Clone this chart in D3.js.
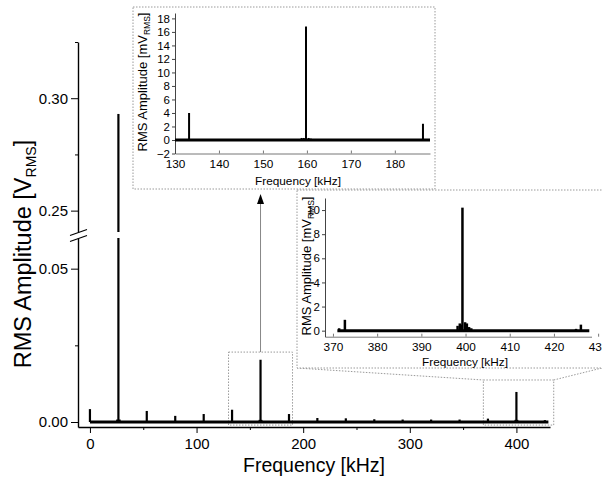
<!DOCTYPE html>
<html>
<head>
<meta charset="utf-8">
<script src="https://cdn.jsdelivr.net/npm/d3@7"></script>
<style>
	body { margin: 0; background: #fff; }
	svg text { font-family: 'Liberation Sans', Arial, sans-serif; }
</style>
</head>
<body>
<svg id="chart" width="602" height="485"></svg>
<script>
'use strict';

// main spectrum: peaks [kHz] and amplitudes [V_RMS]
let mainFreq = [0, 25.6, 26.7, 27.8, 53.3, 80, 106.7, 133.3, 159.2, 160, 160.8, 186.7, 213.3, 240, 266.7, 293.3, 320, 346.7, 373.3, 399.2, 400, 400.8, 426.7];
let mainAmp = [0.0042, 0.0008, 0.293, 0.0008, 0.0036, 0.002, 0.0026, 0.004, 0.0007, 0.0203, 0.0007, 0.0026, 0.0013, 0.0012, 0.0009, 0.0008, 0.0008, 0.0008, 0.0011, 0.0007, 0.0098, 0.0007, 0.0006];
let mainBase = [0, 430];
let mainXTicks = [0, 100, 200, 300, 400];
let mainXMinor = [50, 150, 250, 350];
let lowTicks = [0, 0.05];
let lowMinor = [0.025];
let highTicks = [0.25, 0.30];
let highMinor = [0.275, 0.325];

// inset 1: 130-188 kHz [mV_RMS]
let ins1Freq = [133.2, 158.8, 159.3, 159.8, 160.4, 160.9, 186.4];
let ins1Amp = [4.0, 0.3, 0.3, 16.8, 0.3, 0.2, 2.4];
let ins1Base = [130, 188];
let ins1XTicks = [130, 140, 150, 160, 170, 180];
let ins1YTicks = [-2, 0, 2, 4, 6, 8, 10, 12, 14, 16, 18];

// inset 2: 368-429 kHz [mV_RMS]
let ins2Freq = [371.4, 372.7, 398.2, 398.7, 399.0, 399.3, 399.9, 400.3, 400.8, 401.3, 425.0, 426.1];
let ins2Amp = [0.2, 0.9, 0.4, 0.6, 0.5, 10.2, 0.7, 0.6, 0.3, 0.2, 0.15, 0.5];
let ins2Base = [371, 428];
let ins2XTicks = [370, 380, 390, 400, 410, 420, 430];
let ins2YTicks = [0, 2, 4, 6, 8, 10];

let svg = d3.select('#chart');
let font = "'Liberation Sans', Arial, sans-serif";

svg.append('rect').attr('width', 602).attr('height', 485).attr('fill', '#fff');

// ---- main plot scales
let x = d3.scaleLinear().domain([-11.2, 431.5]).range([78, 550]);
let yLow = d3.scaleLinear().domain([-0.00163, 0.06]).range([427, 238]);
let yHigh = d3.scaleLinear().domain([0.2405, 0.325]).range([232, 42]);

function styleAxis(g, size, color) {
	g.attr('font-size', size).attr('font-family', font);
	g.selectAll('path, line').attr('stroke', color);
	g.selectAll('text').attr('fill', '#000');
	return g;
}

let main = svg.append('g');

// left axis, two segments
main.append('g').attr('transform', 'translate(78,0)')
	.call(d3.axisLeft(yLow).tickValues(lowTicks).tickFormat(d3.format('.2f')).tickSize(7).tickSizeOuter(0).tickPadding(3))
	.call(g => styleAxis(g, 15, '#000'));
main.append('g').attr('transform', 'translate(78,0)')
	.call(d3.axisLeft(yLow).tickValues(lowMinor).tickFormat('').tickSize(3).tickSizeOuter(0))
	.call(g => g.select('.domain').remove());
main.append('g').attr('transform', 'translate(78,0)')
	.call(d3.axisLeft(yHigh).tickValues(highTicks).tickFormat(d3.format('.2f')).tickSize(7).tickSizeOuter(0).tickPadding(3))
	.call(g => styleAxis(g, 15, '#000'));
main.append('g').attr('transform', 'translate(78,0)')
	.call(d3.axisLeft(yHigh).tickValues(highMinor).tickFormat('').tickSize(3).tickSizeOuter(0))
	.call(g => g.select('.domain').remove());

// break marks
[0, 6].forEach(dy => {
	main.append('line')
		.attr('x1', 70).attr('y1', 235.5 + dy)
		.attr('x2', 87).attr('y2', 229.5 + dy)
		.attr('stroke', '#000').attr('stroke-width', 1.3);
});

// bottom axis
main.append('g').attr('transform', 'translate(0,427)')
	.call(d3.axisBottom(x).tickValues(mainXTicks).tickSize(6).tickSizeOuter(0).tickPadding(5))
	.call(g => styleAxis(g, 15, '#000'));
main.append('g').attr('transform', 'translate(0,427)')
	.call(d3.axisBottom(x).tickValues(mainXMinor).tickFormat('').tickSize(3).tickSizeOuter(0))
	.call(g => g.select('.domain').remove());

main.selectAll('.domain').attr('stroke-width', 1.4);

// titles
main.append('text')
	.attr('x', 314).attr('y', 472)
	.attr('text-anchor', 'middle')
	.attr('font-size', 19.5)
	.text('Frequency [kHz]');

let yt = main.append('text')
	.attr('transform', 'translate(31,254) rotate(-90)')
	.attr('text-anchor', 'middle')
	.attr('font-size', 23.5);
yt.append('tspan').text('RMS Amplitude [V');
yt.append('tspan').attr('font-size', 14).attr('dy', 5).text('RMS');
yt.append('tspan').attr('dy', -5).text(']');

// zoom boxes on the main plot
let dotted = { stroke: '#9a9a9a', dash: '1.5,1.5' };
let zoomBoxes = [[130, 190, 0.0228], [369, 435, 0.0137]];
zoomBoxes.forEach(b => {
	main.append('rect')
		.attr('x', x(b[0])).attr('y', yLow(b[2]))
		.attr('width', x(b[1]) - x(b[0]))
		.attr('height', yLow(-0.001) - yLow(b[2]))
		.attr('fill', 'none')
		.attr('stroke', dotted.stroke)
		.attr('stroke-dasharray', dotted.dash);
});

// baseline + stems
main.append('line')
	.attr('x1', x(mainBase[0])).attr('x2', x(mainBase[1]))
	.attr('y1', yLow(0)).attr('y2', yLow(0))
	.attr('stroke', '#000').attr('stroke-width', 3);

let lowTop = yLow.domain()[1];
main.selectAll('line.low').data(mainFreq).join('line')
	.attr('class', 'low')
	.attr('x1', d => x(d)).attr('x2', d => x(d))
	.attr('y1', yLow(0))
	.attr('y2', (d, i) => yLow(Math.min(mainAmp[i], lowTop)))
	.attr('stroke', '#000').attr('stroke-width', 2.2);

main.selectAll('line.high').data(mainFreq.filter((d, i) => mainAmp[i] > yHigh.domain()[0])).join('line')
	.attr('class', 'high')
	.attr('x1', d => x(d)).attr('x2', d => x(d))
	.attr('y1', yHigh(yHigh.domain()[0]))
	.attr('y2', d => yHigh(mainAmp[mainFreq.indexOf(d)]))
	.attr('stroke', '#000').attr('stroke-width', 2.2);

// arrow to inset 1
main.append('line')
	.attr('x1', x(160)).attr('x2', x(160))
	.attr('y1', yLow(0.0228)).attr('y2', 202)
	.attr('stroke', '#888').attr('stroke-width', 1);
main.append('path')
	.attr('d', `M${x(160)},194 L${x(160) - 3.5},204 L${x(160) + 3.5},204 Z`)
	.attr('fill', '#000');

// connectors to inset 2
main.append('path')
	.attr('d', `M297,368 L${x(369)},${yLow(0.0137)} M${x(435)},${yLow(0.0137)} L610,366`)
	.attr('fill', 'none')
	.attr('stroke', dotted.stroke)
	.attr('stroke-dasharray', dotted.dash);

// ---- insets
function inset(opt) {
	let g = svg.append('g');

	g.append('rect')
		.attr('x', opt.box[0]).attr('y', opt.box[1])
		.attr('width', opt.box[2] - opt.box[0])
		.attr('height', opt.box[3] - opt.box[1])
		.attr('fill', '#fff')
		.attr('stroke', dotted.stroke)
		.attr('stroke-dasharray', dotted.dash);

	let ix = d3.scaleLinear().domain(opt.xDomain).range(opt.xRange);
	let iy = d3.scaleLinear().domain(opt.yDomain).range(opt.yRange);

	g.append('g').attr('transform', `translate(0,${opt.yRange[0]})`)
		.call(d3.axisBottom(ix).tickValues(opt.xTicks).tickSize(-3).tickSizeOuter(0).tickPadding(6))
		.call(a => styleAxis(a, 11.8, '#777'));
	g.append('g').attr('transform', `translate(${opt.xRange[0]},0)`)
		.call(d3.axisLeft(iy).tickValues(opt.yTicks).tickSize(3).tickSizeOuter(0).tickPadding(2))
		.call(a => styleAxis(a, 11.5, '#444'));

	g.append('line')
		.attr('x1', ix(opt.base[0])).attr('x2', ix(opt.base[1]))
		.attr('y1', iy(0)).attr('y2', iy(0))
		.attr('stroke', '#000').attr('stroke-width', 3);

	g.selectAll('line.stem').data(opt.freq).join('line')
		.attr('class', 'stem')
		.attr('x1', d => ix(d)).attr('x2', d => ix(d))
		.attr('y1', iy(0))
		.attr('y2', (d, i) => iy(opt.amp[i]))
		.attr('stroke', '#000').attr('stroke-width', opt.stemWidth);

	g.append('text')
		.attr('x', opt.xTitle[0]).attr('y', opt.xTitle[1])
		.attr('text-anchor', 'middle')
		.attr('font-size', 11.8)
		.text('Frequency [kHz]');

	let t = g.append('text')
		.attr('transform', `translate(${opt.yTitle[0]},${opt.yTitle[1]}) rotate(-90)`)
		.attr('text-anchor', 'middle')
		.attr('font-size', 13);
	t.append('tspan').text('RMS Amplitude [mV');
	t.append('tspan').attr('font-size', 8.5).attr('dy', 3).text('RMS');
	t.append('tspan').attr('dy', -3).text(']');

	return g;
}

inset({
	box: [133, 7, 435, 189],
	xDomain: [130, 188], xRange: [175, 430],
	yDomain: [-2, 18.8], yRange: [153.5, 13],
	xTicks: ins1XTicks, yTicks: ins1YTicks,
	base: ins1Base, freq: ins1Freq, amp: ins1Amp,
	stemWidth: 2,
	xTitle: [298, 185], yTitle: [147, 82]
});

inset({
	box: [297, 190, 606, 368],
	xDomain: [368.2, 428.5], xRange: [325, 591.5],
	yDomain: [-0.5, 11], yRange: [336.7, 198],
	xTicks: ins2XTicks, yTicks: ins2YTicks,
	base: ins2Base, freq: ins2Freq, amp: ins2Amp,
	stemWidth: 2.5,
	xTitle: [465, 366], yTitle: [311, 266]
});
</script>
</body>
</html>
